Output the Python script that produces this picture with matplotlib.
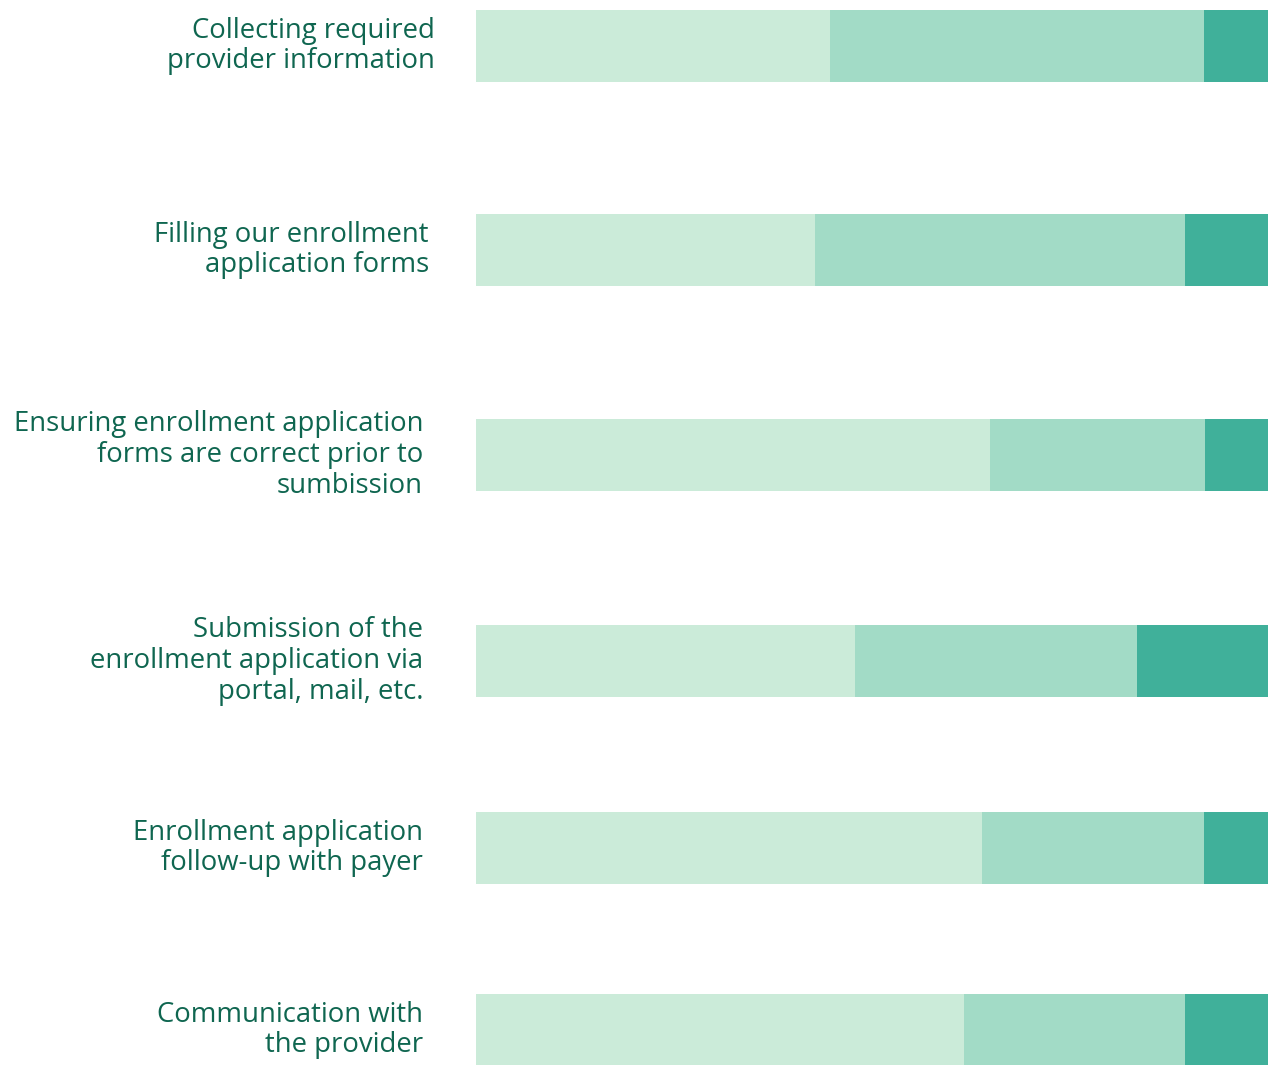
import matplotlib.pyplot as plt
import numpy as np

plt.rcParams['font.family'] = ['Open Sans', 'DejaVu Sans']

tasks = [
    "Collecting required\nprovider information",
    "Filling our enrollment\napplication forms",
    "Ensuring enrollment application\nforms are correct prior to\nsumbission",
    "Submission of the\nenrollment application via\nportal, mail, etc.",
    "Enrollment application\nfollow-up with payer",
    "Communication with\nthe provider",
]
# share of respondents per task (%), three response levels
level1 = [44.7, 42.8, 64.9, 47.9, 63.9, 61.6]
level2 = [47.2, 46.7, 27.1, 35.6, 28.0, 27.9]
level3 = [8.1, 10.5, 8.0, 16.5, 8.1, 10.5]

colors = ['#cbebd9', '#a2dbc6', '#40b09a']
text_color = '#0f6650'

# row layout (pixel rows from the top) and label right edges
row_centers = [46, 250, 455, 661, 848, 1030]
label_right = [435, 429, 423, 423, 423, 423]

W, H = 1276, 1065
fig = plt.figure(figsize=(W / 100, H / 100), dpi=100)
ax = fig.add_axes([476 / W, 0, 792 / W, 1])
ax.set_xlim(0, 100)
ax.set_ylim(H, 0)
ax.axis('off')

left = np.zeros(len(tasks))
for vals, c in zip([level1, level2, level3], colors):
    ax.barh(row_centers, vals, left=left, height=72, color=c, linewidth=0)
    left += np.array(vals)

for lab, y, xr in zip(tasks, row_centers, label_right):
    fig.text(xr / W, 1 - y / H, lab, ha='right', va='center',
             fontsize=19.8, color=text_color, linespacing=1.12)

fig.savefig('out.png', dpi=100)
